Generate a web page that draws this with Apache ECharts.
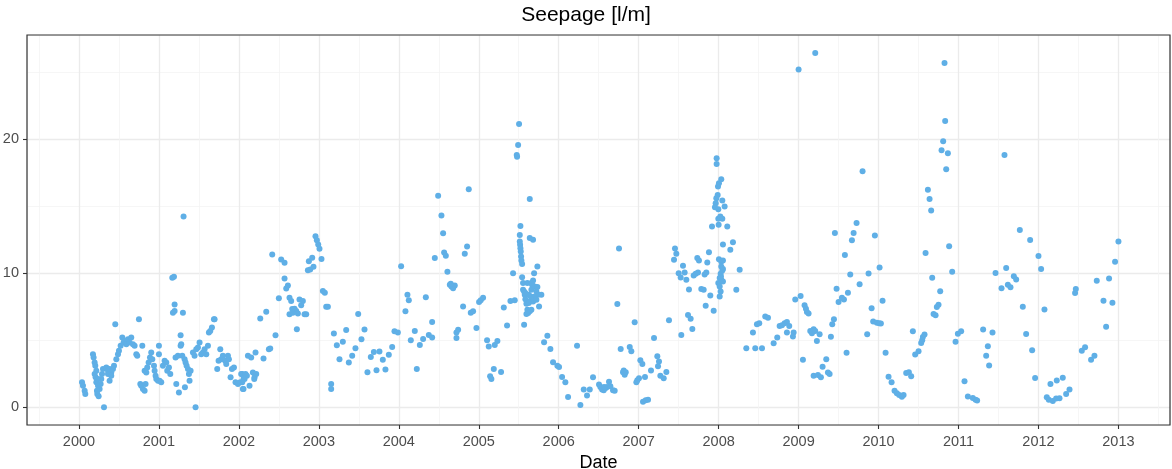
<!DOCTYPE html>
<html>
<head>
<meta charset="utf-8">
<script src="https://cdn.jsdelivr.net/npm/echarts@6/dist/echarts.min.js"></script>
<style>
  html, body { margin: 0; padding: 0; background: #fff; }
  #chart { width: 1172px; height: 469px; }
</style>
</head>
<body>
<div id="chart"></div>
<script>
// ---- data (decimal year, seepage l/m) ----
const chartTitle = 'Seepage [l/m]';
const xAxisTitle = 'Date';
const xTicks = [2000, 2001, 2002, 2003, 2004, 2005, 2006, 2007, 2008, 2009, 2010, 2011, 2012, 2013];
const yTicks = [0, 10, 20];

const seepage2000_2001 = [
  [2000.038,1.86],[2000.05,1.61],[2000.071,1.24],[2000.079,0.99],
  [2000.175,3.96],[2000.183,3.71],[2000.196,3.34],[2000.204,3.09],[2000.217,2.72],[2000.196,2.48],[2000.208,2.23],[2000.217,1.86],[2000.238,1.61],[2000.225,1.24],[2000.229,0.99],[2000.246,0.82],[2000.258,1.36],[2000.271,1.73],[2000.279,2.1],[2000.288,2.48],[2000.238,2.1],
  [2000.313,0],[2000.3,2.85],[2000.342,2.97],[2000.363,2.72],[2000.383,2.85],[2000.404,2.6],[2000.425,2.85],[2000.438,3.09],[2000.363,2.48],[2000.383,1.98],[2000.404,2.35],
  [2000.454,6.19],[2000.467,3.59],[2000.488,3.96],[2000.5,4.21],[2000.521,4.58],[2000.542,5.2],[2000.558,4.83],[2000.571,4.95],[2000.592,4.7],[2000.613,5.07],[2000.633,4.83],[2000.654,5.2],[2000.675,4.7],[2000.696,4.58],[2000.717,3.96],[2000.729,3.84],
  [2000.75,6.56],[2000.767,1.73],[2000.779,1.61],[2000.8,1.36],[2000.821,1.24],[2000.833,1.73],[2000.792,4.58],[2000.821,2.72],[2000.842,2.6],[2000.854,2.97],[2000.871,3.34],[2000.888,3.71],[2000.904,4.08],[2000.917,3.59],[2000.938,3.09],[2000.946,2.72],[2000.958,2.35],[2000.967,2.1],[2000.988,1.98],
  [2001.008,1.98],[2001.029,1.86],[2001.0,4.58],[2001.0,3.96],
  [2001.05,3.09],[2001.071,3.47],[2001.092,3.34],[2001.104,2.72],[2001.125,2.97],[2001.142,2.48],[2001.167,9.65],[2001.188,9.73],[2001.175,7.05],[2001.196,7.67],[2001.196,7.18],[2001.217,1.73],[2001.208,3.71],[2001.238,3.84],[2001.25,1.11],[2001.271,4.58],[2001.279,4.7],[2001.271,5.37],[2001.3,7.05],[2001.308,14.23],[2001.292,3.84],[2001.321,3.59],[2001.333,3.34],[2001.346,3.09],[2001.363,2.85],[2001.375,2.48],[2001.383,1.98],[2001.325,1.49],[2001.396,2.72],
  [2001.458,0],[2001.425,4.08],[2001.446,3.84],[2001.467,4.33],[2001.488,4.46],[2001.508,4.83],[2001.529,3.96],[2001.55,4.08],[2001.571,4.33],[2001.592,3.96],[2001.613,4.58],[2001.625,5.57],[2001.642,5.69],[2001.663,5.94],[2001.688,6.56],[2001.696,6.56],
  [2001.729,2.85],[2001.746,3.47],[2001.767,4.33],[2001.779,3.59],[2001.8,3.84],[2001.829,3.47],[2001.842,3.22],[2001.863,3.84],[2001.875,3.59],[2001.896,2.23],[2001.913,2.85],[2001.938,2.97],[2001.958,1.86],[2001.988,1.73]
];

const seepage2002_2003 = [
  [2002.017,1.86],[2002.05,1.36],[2002.029,2.48],[2002.058,2.1],
  [2002.042,2.48],[2002.058,2.35],[2002.083,2.48],[2002.1,2.35],[2002.042,1.86],[2002.058,1.36],[2002.071,2.1],[2002.133,1.61],[2002.175,2.6],[2002.196,2.23],[2002.217,2.48],[2002.192,2.1],
  [2002.113,3.84],[2002.154,3.71],[2002.208,4.08],[2002.308,3.64],[2002.375,4.33],[2002.392,4.38],[2002.458,5.37],[2002.267,6.61],[2002.342,7.13],[2002.417,11.39],
  [2002.529,11.01],[2002.571,10.77],[2002.5,8.12],[2002.571,9.6],[2002.592,8.86],[2002.613,9.08],[2002.633,8.17],[2002.654,7.92],[2002.633,6.93],[2002.675,7.05],[2002.696,7.35],[2002.717,7.18],[2002.738,7.0],[2002.667,7.33],
  [2002.758,8.04],[2002.8,7.92],[2002.779,7.6],[2002.821,6.93],[2002.842,6.93],[2002.725,5.82],[2002.863,10.22],[2002.892,10.27],[2002.875,10.89],[2002.917,11.14],[2002.933,10.47],
  [2002.958,12.75],[2002.975,12.45],[2002.992,12.13],[2003.008,11.81],[2003.033,11.06],[2003.05,8.66],[2003.075,8.54],[2003.092,7.5],[2003.113,7.5],[2003.154,1.73],[2003.154,1.36],
  [2003.188,5.5],[2003.225,4.63],[2003.258,3.59],[2003.3,4.88],[2003.342,5.77],[2003.375,3.34],[2003.417,3.84],[2003.458,4.41],[2003.492,6.96],[2003.533,5.07],[2003.571,5.79],
  [2003.608,2.62],[2003.65,3.74],[2003.688,4.13],[2003.721,2.77],[2003.758,4.16],[2003.8,3.54],[2003.833,2.82],[2003.875,3.91],[2003.917,4.5],[2003.946,5.67],[2003.988,5.57]
];

const seepage2004_2005 = [
  [2004.029,10.52],[2004.083,7.15],[2004.108,8.39],[2004.125,7.97],[2004.338,8.21],[2004.2,5.68],[2004.15,4.99],[2004.263,4.64],[2004.304,5.09],[2004.375,5.38],[2004.417,5.21],[2004.417,6.35],[2004.225,2.85],
  [2004.45,11.12],[2004.492,15.76],[2004.533,14.29],[2004.554,12.98],[2004.567,11.54],[2004.588,11.29],[2004.608,10.1],[2004.638,9.13],[2004.658,9.01],[2004.679,8.88],[2004.7,9.08],[2004.65,9.21],
  [2004.721,5.58],[2004.721,5.16],[2004.742,5.78],[2004.804,7.52],[2004.825,11.44],[2004.854,11.99],[2004.875,16.25],[2004.9,7.05],[2004.929,7.15],[2004.971,5.91],
  [2005.004,7.84],[2005.025,7.97],[2005.054,8.16],[2005.104,4.99],[2005.125,4.54],[2005.2,4.64],[2005.233,4.94],[2005.142,2.31],[2005.158,2.11],[2005.188,2.85],[2005.279,2.63],
  [2005.313,7.44],[2005.354,6.1],[2005.396,7.92],[2005.45,7.97],[2005.429,10.0],
  [2005.504,21.12],[2005.492,19.55],[2005.475,18.81],[2005.479,18.68],[2005.521,13.52],[2005.513,12.85],[2005.513,12.36],[2005.517,12.11],[2005.521,11.86],[2005.525,11.61],[2005.529,11.24],[2005.533,10.94],[2005.542,10.69],
  [2005.638,15.53],[2005.638,12.61],[2005.679,12.48],
  [2005.542,9.7],[2005.554,9.26],[2005.567,8.64],[2005.575,8.39],[2005.583,8.06],[2005.596,7.72],[2005.608,7.27],[2005.617,7.02],[2005.638,7.89],[2005.65,8.26],[2005.658,8.76],[2005.667,9.13],[2005.679,9.45],[2005.7,9.01],[2005.721,8.64],[2005.733,8.96],[2005.742,8.39],[2005.754,7.52],
  [2005.692,10.0],[2005.733,10.5],[2005.783,8.39],[2005.658,7.27],[2005.638,7.15],[2005.596,6.95],[2005.567,6.15],[2005.625,8.39],[2005.679,7.89],[2005.608,9.26],
  [2005.554,8.76],[2005.583,8.51],[2005.625,7.77],[2005.7,8.26],[2005.658,9.26],[2005.721,8.01],
  [2005.817,4.84],[2005.858,5.33],[2005.896,4.34],[2005.929,3.35],[2005.983,3.1]
];

const seepage2006_2007 = [
  [2006.004,3.0],[2006.042,2.26],[2006.083,1.86],[2006.117,0.77],
  [2006.229,4.59],[2006.271,0.17],[2006.313,1.32],[2006.354,0.87],[2006.388,1.32],[2006.429,2.23],[2006.504,1.69],[2006.521,1.51],[2006.542,1.32],[2006.563,1.27],[2006.588,1.44],[2006.604,1.51],[2006.629,1.91],[2006.646,1.56],[2006.679,1.27],[2006.7,1.24],[2006.567,1.51],
  [2006.754,11.84],[2006.733,7.69],[2006.775,4.34],[2006.804,2.61],[2006.813,2.75],[2006.825,2.43],[2006.838,2.61],[2006.888,4.49],[2006.908,4.17],[2006.95,6.33],[2006.971,1.86],[2006.983,2.01],
  [2007.004,2.16],[2007.021,3.5],[2007.046,3.23],[2007.054,0.42],[2007.088,0.52],[2007.117,0.57],[2007.079,2.26],[2007.154,2.75],[2007.192,5.16],[2007.233,3.8],[2007.254,3.42],[2007.242,3.05],[2007.271,2.36],[2007.313,2.16],[2007.346,2.63],[2007.379,6.48],
  [2007.533,5.38],[2007.617,6.87],[2007.65,6.6],[2007.671,5.83],
  [2007.454,11.84],[2007.471,11.44],[2007.442,10.99],[2007.554,10.55],[2007.5,10.0],[2007.525,9.68],[2007.575,10.05],[2007.596,9.5],[2007.629,8.78],[2007.688,9.83],[2007.713,9.95],[2007.733,11.12],[2007.754,10.94],[2007.742,10.05],
  [2007.783,8.81],[2007.813,8.76],[2007.825,9.9],[2007.846,10.05],[2007.858,10.79],[2007.879,11.56],[2007.838,7.57],[2007.896,8.34],[2007.938,7.2],
  [2007.975,18.56],[2007.975,18.14],[2007.992,16.45],[2007.988,15.83],[2007.971,15.58],[2007.963,15.21],[2007.954,14.91],[2007.996,14.76],[2007.996,14.06],[2007.917,13.47],[2007.996,9.26]
];

const seepage2008_2009 = [
  [2008.033,17.0],[2008.004,16.7],[2008.046,15.41],[2008.075,14.96],[2008.021,14.22],[2008.046,14.06],[2008.0,13.6],[2008.108,13.47],[2008.179,12.31],[2008.054,12.13],[2008.146,11.74],
  [2008.004,11.04],[2008.033,10.87],[2008.054,10.94],[2008.033,10.5],[2008.046,10.2],[2008.025,9.95],[2008.013,9.63],[2008.033,9.5],[2008.054,9.38],[2008.013,9.0],[2008.025,8.64],[2008.013,8.26],[2008.054,10.3],[2008.221,8.76],[2008.263,10.25],[2008.029,9.75],
  [2008.346,4.41],[2008.458,4.41],[2008.542,4.41],[2008.429,5.57],[2008.479,6.19],[2008.508,6.26],[2008.583,6.76],[2008.617,6.68],[2008.688,4.78],[2008.733,5.2],[2008.763,6.06],[2008.792,6.11],[2008.825,6.26],[2008.854,6.36],[2008.883,6.06],[2008.854,5.57],[2008.938,5.57],[2008.929,5.27],[2008.958,8.04],
  [2009.0,25.17],[2009.208,26.41],
  [2009.025,8.29],[2009.054,3.54],[2009.075,7.6],[2009.092,7.35],[2009.104,7.1],[2009.125,7.0],[2009.146,5.69],[2009.167,5.52],[2009.188,5.82],[2009.208,5.69],[2009.263,5.45],[2009.229,4.95],
  [2009.188,2.35],[2009.242,2.4],[2009.279,2.23],[2009.3,3.02],[2009.346,3.59],[2009.367,2.6],[2009.388,2.48],[2009.404,5.25],[2009.421,6.19],[2009.442,6.56],[2009.475,8.84],[2009.5,7.85],[2009.542,8.17],[2009.567,8.04],[2009.617,8.54],[2009.6,4.06],[2009.646,9.9],
  [2009.454,13.0],[2009.579,11.36],[2009.667,12.45],[2009.688,13.0],[2009.725,13.74],[2009.763,9.18],[2009.8,17.6],[2009.875,9.98],[2009.913,7.38],[2009.933,6.39],[2009.954,12.8],[2009.979,6.31],[2009.858,5.45]
];

const seepage2010_2011 = [
  [2010.008,6.26],[2010.029,6.24],[2010.013,10.42],[2010.05,7.95],[2010.088,4.06],[2010.125,2.28],[2010.163,1.86],[2010.2,1.24],[2010.229,1.04],[2010.258,0.92],[2010.292,0.79],[2010.313,0.92],
  [2010.346,2.56],[2010.379,2.61],[2010.408,2.31],[2010.458,3.93],[2010.5,4.17],[2010.429,5.66],[2010.533,4.8],[2010.546,4.99],[2010.554,5.24],[2010.575,5.42],[2010.588,11.5],[2010.617,16.22],[2010.638,15.53],[2010.658,14.66],
  [2010.671,9.66],[2010.688,6.96],[2010.713,6.86],[2010.729,7.48],[2010.75,7.65],[2010.771,8.65],[2010.788,19.16],[2010.808,19.83],[2010.825,25.66],[2010.833,21.34],[2010.846,17.74],[2010.867,18.93],[2010.883,12.0],[2010.921,10.11],[2010.963,4.89],[2010.992,5.49],
  [2011.033,5.66],[2011.075,1.94],[2011.117,0.8],[2011.179,0.7],[2011.213,0.57],[2011.233,0.5],[2011.308,5.79],[2011.367,4.55],[2011.346,3.85],[2011.383,3.11],[2011.425,5.57],[2011.463,10.01],[2011.538,8.87],[2011.575,18.81],[2011.596,10.39],[2011.617,9.14],[2011.65,8.94],[2011.692,9.76],[2011.721,9.52],
  [2011.767,13.22],[2011.804,7.5],[2011.846,5.47],[2011.896,12.47],[2011.921,4.25],[2011.958,2.19]
];

const seepage2012_2013 = [
  [2012.0,11.28],[2012.033,10.31],[2012.075,7.28],[2012.104,0.75],[2012.129,0.57],[2012.179,0.47],[2012.221,0.65],[2012.263,0.67],[2012.15,1.74],[2012.229,1.99],[2012.304,2.21],[2012.346,0.99],[2012.388,1.32],
  [2012.458,8.51],[2012.467,8.81],[2012.542,4.22],[2012.583,4.47],[2012.658,3.55],[2012.7,3.85],[2012.729,9.43],[2012.813,7.94],[2012.846,6.0],[2012.883,9.6],[2012.925,7.79],[2012.958,10.84],[2013.0,12.36]
];

const seepagePoints = [].concat(seepage2000_2001, seepage2002_2003, seepage2004_2005,
  seepage2006_2007, seepage2008_2009, seepage2010_2011, seepage2012_2013);

// ---- layout ----
const G = { left: 27, top: 35, width: 1143, height: 390 };
const xMin = 1999.35, xMax = 2013.645;
const yMin = -1.32, yMax = 27.75;
const FONT = '"Liberation Sans", Arial, sans-serif';

const isInt = v => Math.abs(v - Math.round(v)) < 1e-6;

const chart = echarts.init(document.getElementById('chart'), null, { renderer: 'canvas' });
chart.setOption({
  backgroundColor: '#ffffff',
  animation: false,
  title: {
    text: chartTitle,
    left: 'center',
    top: 5,
    padding: [0, 0, 0, 25],
    textStyle: { fontFamily: FONT, fontSize: 21, fontWeight: 'normal', color: '#000' }
  },
  grid: { left: G.left, top: G.top, width: G.width, height: G.height, show: false,
          containLabel: false, outerBoundsMode: 'none' },
  xAxis: [
    { // minor grid
      type: 'value', position: 'bottom', min: xMin, max: xMax, minInterval: 0.5, maxInterval: 0.5, splitNumber: 28,
      axisLine: { show: false }, axisTick: { show: false }, axisLabel: { show: false },
      splitLine: { show: true, lineStyle: { color: '#F4F4F4', width: 0.8 } }
    },
    { // major
      type: 'value', position: 'bottom', offset: 0, min: xMin, max: xMax, minInterval: 1, maxInterval: 1, splitNumber: 14,
      name: xAxisTitle, nameLocation: 'middle', nameGap: 26,
      nameTextStyle: { fontFamily: FONT, fontSize: 18, color: '#000' },
      axisLine: { show: false, onZero: false },
      axisTick: { show: true, length: 4, customValues: xTicks, lineStyle: { color: '#333', width: 1.1 } },
      axisLabel: { show: true, margin: 9, customValues: xTicks, fontFamily: FONT, fontSize: 14.5, color: '#4D4D4D',
        formatter: v => isInt(v) ? String(Math.round(v)) : '' },
      splitLine: { show: true, lineStyle: { color: '#EBEBEB', width: 1.3 } }
    }
  ],
  yAxis: [
    { // minor grid
      type: 'value', position: 'left', min: yMin, max: yMax, minInterval: 5, maxInterval: 5, splitNumber: 6,
      axisLine: { show: false }, axisTick: { show: false }, axisLabel: { show: false },
      splitLine: { show: true, lineStyle: { color: '#F4F4F4', width: 0.8 } }
    },
    { // major
      type: 'value', position: 'left', offset: 0, min: yMin, max: yMax, minInterval: 10, maxInterval: 10, splitNumber: 3,
      axisLine: { show: false, onZero: false },
      axisTick: { show: true, length: 4, customValues: yTicks, lineStyle: { color: '#333', width: 1.1 } },
      axisLabel: { show: true, margin: 8, customValues: yTicks, fontFamily: FONT, fontSize: 14.5, color: '#4D4D4D',
        formatter: v => isInt(v) ? String(Math.round(v)) : '' },
      splitLine: { show: true, lineStyle: { color: '#EBEBEB', width: 1.3 } }
    }
  ],
  graphic: [{
    type: 'rect', z: 100, silent: true,
    shape: { x: G.left, y: G.top, width: G.width, height: G.height },
    style: { fill: 'none', stroke: '#333333', lineWidth: 1.2 }
  }],
  series: [{
    type: 'scatter',
    xAxisIndex: 1, yAxisIndex: 1,
    symbol: 'circle', symbolSize: 6,
    itemStyle: { color: '#5FAFE6', opacity: 1 },
    data: seepagePoints
  }]
});
</script>
</body>
</html>
